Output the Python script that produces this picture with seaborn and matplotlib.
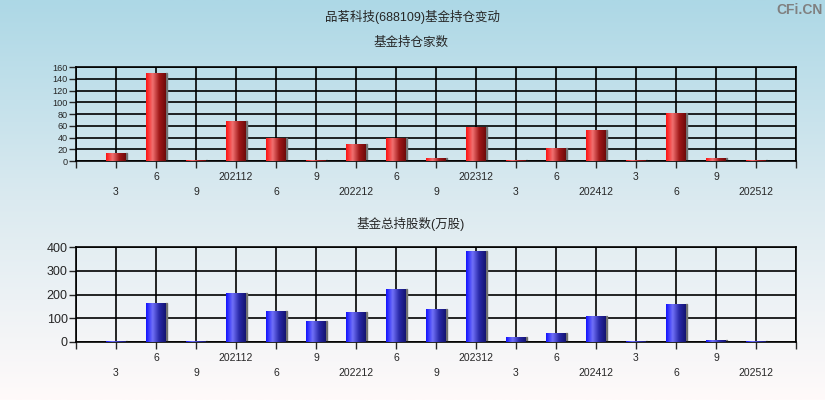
import numpy as np
import seaborn as sns
import matplotlib.pyplot as plt
from matplotlib.colors import LinearSegmentedColormap
from matplotlib.patches import Rectangle

# reporting periods (unique ids) and the labels shown under the bars
periods = ['2021-03', '2021-06', '2021-09', '2021-12', '2022-06', '2022-09', '2022-12',
           '2023-06', '2023-09', '2023-12', '2024-03', '2024-06', '2024-12',
           '2025-03', '2025-06', '2025-09', '2025-12']
tick_labels = ['3', '6', '9', '202112', '6', '9', '202212', '6', '9', '202312',
               '3', '6', '202412', '3', '6', '9', '202512']
fund_counts = [14, 149, 2, 68, 40, 2, 29, 39, 5, 58, 2, 22, 53, 2, 81, 5, 2]
fund_shares = [4, 165, 4, 207, 131, 89, 127, 224, 139, 385, 21, 38, 110, 3, 161, 8, 3]

sns.set_style('ticks')
plt.rcParams['font.family'] = ['Liberation Sans', 'Noto Sans CJK SC', 'DejaVu Sans']

red_cmap = LinearSegmentedColormap.from_list('r', ['#ff1010', '#f07070', '#a01818', '#6e0a0a'], N=256)
blue_cmap = LinearSegmentedColormap.from_list('b', ['#1010ff', '#7070f8', '#2828a8', '#141470'], N=256)

fig = plt.figure(figsize=(8.25, 4), dpi=100)

# background gradient
bg = fig.add_axes([0, 0, 1, 1], zorder=-10)
grad = np.linspace(0, 1, 256).reshape(-1, 1)
bg_cmap = LinearSegmentedColormap.from_list('bg', ['#add8e6', '#dbeaf0', '#fffafa'])
bg.imshow(grad, cmap=bg_cmap, aspect='auto', extent=[0, 1, 0, 1])
bg.axis('off')


def draw(ax, values, cmap, ymax, ystep, ytick_size):
    sns.barplot(x=periods, y=values, order=periods, width=0.5, color='red', ax=ax)
    g = np.linspace(0, 1, 256).reshape(1, -1)
    for p in list(ax.patches):
        x0, y0 = p.get_x(), p.get_y()
        w, h = p.get_width(), p.get_height()
        ax.add_patch(Rectangle((x0 + w, y0), 0.025, h, color='#707070', zorder=2))
        im = ax.imshow(g, cmap=cmap, aspect='auto', extent=(x0, x0 + w, y0, y0 + h), zorder=3)
        im.set_clip_path(p)
        p.set_facecolor('none')
        p.set_edgecolor('none')
    ax.set_facecolor('none')
    ax.set_xlim(-1, len(periods))
    ax.set_ylim(0, ymax)
    ax.set_xticks(range(-1, len(periods) + 1))
    labs = [''] + [l if i % 2 else '\n' + l for i, l in enumerate(tick_labels)] + ['']
    ax.set_xticklabels(labs, fontsize=7.5)
    for t in ax.get_xticklabels():
        t.set_linespacing(1.6)
    ax.set_yticks(np.arange(0, ymax + 1, ystep))
    ax.tick_params(axis='y', labelsize=ytick_size, length=5, width=1, pad=1, direction='out')
    ax.tick_params(axis='x', length=5, width=1, pad=3, direction='out')
    ax.grid(True, color='black', linewidth=1.2)
    ax.set_axisbelow(True)
    for s in ax.spines.values():
        s.set_visible(True)
        s.set_color('black')
        s.set_linewidth(1.2)
    ax.set_xlabel('')
    ax.set_ylabel('')


ax1 = fig.add_axes([76 / 825, 1 - 161 / 400, 720 / 825, 94 / 400])
draw(ax1, fund_counts, red_cmap, 160, 20, 6.6)

ax2 = fig.add_axes([76 / 825, 1 - 342 / 400, 720 / 825, 95 / 400])
draw(ax2, fund_shares, blue_cmap, 400, 100, 9)

fig.text(0.4994, 1 - 17 / 400, '品茗科技(688109)基金持仓变动', ha='center', va='center', fontsize=9)
fig.text(0.498, 1 - 43 / 400, '基金持仓家数', ha='center', va='center', fontsize=9)
fig.text(0.498, 1 - 224 / 400, '基金总持股数(万股)', ha='center', va='center', fontsize=9)
fig.text(0.997, 1 - 10 / 400, 'CFi.CN', ha='right', va='center', fontsize=10,
         color='#808080', fontweight='bold')

fig.savefig('out.png', dpi=100)
